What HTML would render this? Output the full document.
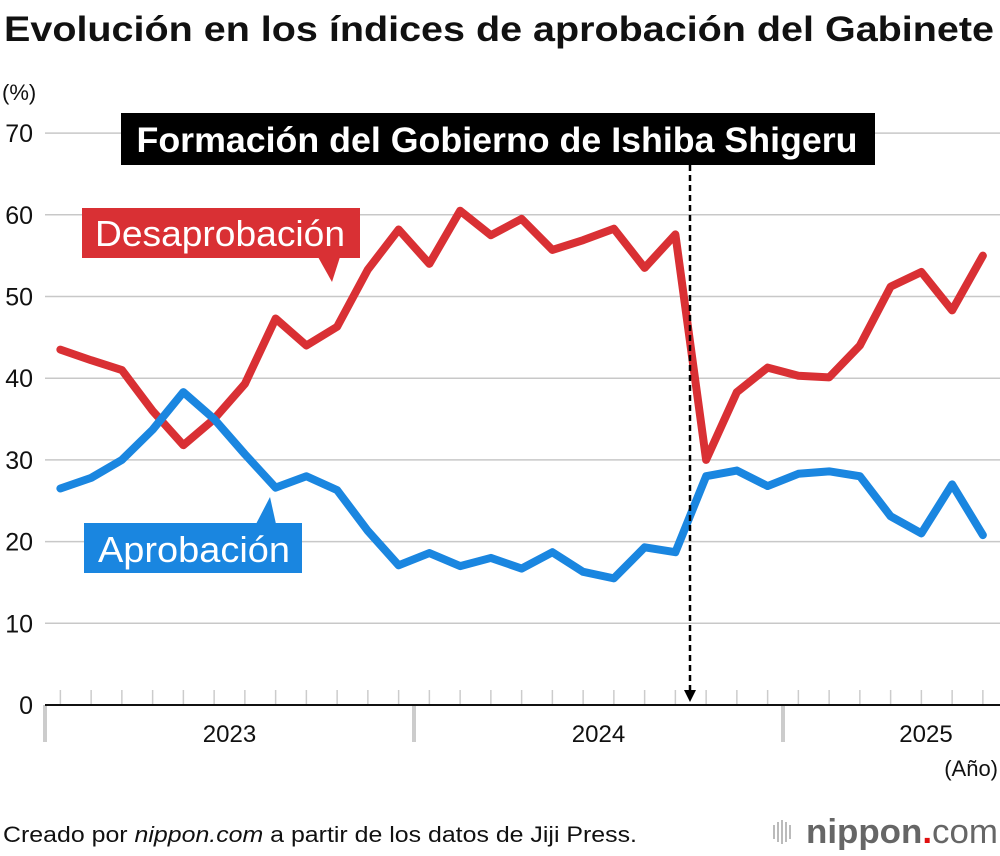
<!DOCTYPE html>
<html><head><meta charset="utf-8"><style>
body{margin:0;background:#fff;font-family:"Liberation Sans",Arial,sans-serif;}
svg{display:block}
</style></head><body>
<svg id="c" width="1000" height="856" viewBox="0 0 1000 856">
<text x="4" y="41" font-size="35" font-weight="bold" fill="#111" textLength="990" lengthAdjust="spacingAndGlyphs">Evolución en los índices de aprobación del Gabinete</text>
<text x="2" y="100" font-size="22" fill="#111">(%)</text>
<g id="grid"></g>
<g id="xaxis"></g>
<g id="lines"></g>
<g>
<rect x="121" y="113" width="754" height="52" fill="#000"/>
<text x="497" y="152" font-size="35" font-weight="bold" fill="#fff" text-anchor="middle" textLength="721" lengthAdjust="spacingAndGlyphs">Formación del Gobierno de Ishiba Shigeru</text>
<line x1="690" y1="165" x2="690" y2="692" stroke="#000" stroke-width="2.5" stroke-dasharray="6,4"/>
<path d="M684,690 L696,690 L690,702 Z" fill="#000"/>
</g>
<g>
<rect x="82" y="208" width="278" height="50" fill="#d93034"/>
<path d="M318,257 L340,257 L332,282 Z" fill="#d93034"/>
<text x="220" y="246" font-size="36" fill="#fff" text-anchor="middle" textLength="250" lengthAdjust="spacingAndGlyphs">Desaprobación</text>
</g>
<g>
<rect x="84" y="523" width="218" height="50" fill="#1a86e0"/>
<path d="M256,524 L276,524 L270,497 Z" fill="#1a86e0"/>
<text x="194" y="562" font-size="36" fill="#fff" text-anchor="middle" textLength="192" lengthAdjust="spacingAndGlyphs">Aprobación</text>
</g>
<text x="998" y="776" font-size="22" fill="#111" text-anchor="end">(Año)</text>
<text x="3" y="842" font-size="22" fill="#111" textLength="634" lengthAdjust="spacingAndGlyphs">Creado por <tspan font-style="italic">nippon.com</tspan> a partir de los datos de Jiji Press.</text>
<g>
<g fill="#bbb"><rect x="773" y="825" width="2" height="14"/><rect x="777" y="822" width="2" height="20"/><rect x="781" y="820" width="2" height="24"/><rect x="785" y="822" width="2" height="20"/><rect x="789" y="825" width="2" height="14"/></g>
<text x="806" y="843" font-size="34" font-weight="bold" fill="#666" textLength="192" lengthAdjust="spacingAndGlyphs">nippon<tspan fill="#e01010">.</tspan><tspan font-weight="normal">com</tspan></text>
</g>
</svg>
<script>
const yTicks=[0,10,20,30,40,50,60,70];
const years=["2023","2024","2025"];
const disapproval=[43.5,42.2,41,36,31.8,35,39.3,47.3,44,46.3,53.3,58.2,54,60.5,57.5,59.5,55.7,56.9,58.3,53.5,57.6,30,38.3,41.3,40.3,40.1,44,51.2,53,48.3,55];
const approval=[26.5,27.8,30,33.7,38.3,35,30.7,26.6,28,26.3,21.3,17.1,18.6,17,18,16.7,18.7,16.3,15.5,19.3,18.7,28,28.7,26.8,28.3,28.6,28,23.1,21,27,20.8];
const NS="http://www.w3.org/2000/svg";
const x0=45,mw=30.75,yBase=705,yPer=8.17;
const X=i=>x0+mw*(i+0.5);
const Y=v=>yBase-v*yPer;
function mk(t,a,p){const e=document.createElementNS(NS,t);for(const k in a)e.setAttribute(k,a[k]);p.appendChild(e);return e;}
const grid=document.getElementById('grid');
yTicks.forEach(v=>{
 if(v>0){const l=mk('line',{x1:45,x2:1000,y1:Y(v),y2:Y(v),stroke:'#c8c8c8','stroke-width':1.5},grid);
 
 }
 const t=mk('text',{x:33,y:Y(v)+9,'font-size':25,fill:'#111','text-anchor':'end'},grid);
 t.textContent=v;
 
 
});
const xa=document.getElementById('xaxis');
for(let i=0;i<disapproval.length;i++){
 const l=mk('line',{x1:X(i),x2:X(i),y1:690,y2:705,stroke:'#ccc','stroke-width':1.5},xa);
 
 
}
years.forEach((y,k)=>{
 const xs=x0+k*12*mw;
 const r=mk('rect',{x:xs-2,y:705,width:4,height:37,fill:'#ccc'},xa);
 
 
 const t=mk('text',{x:k<2?xs+6*mw:xs+4*mw+20,y:742,'font-size':24,fill:'#111','text-anchor':'middle'},xa);
 t.textContent=y;
 
 
});
const ax=mk('line',{x1:45,x2:1000,y1:705,y2:705,stroke:'#111','stroke-width':2},xa);


const lg=document.getElementById('lines');
function series(d,c,n){
 const p=mk('polyline',{points:d.map((v,i)=>X(i)+','+Y(v)).join(' '),fill:'none',stroke:c,'stroke-width':8,'stroke-linejoin':'round','stroke-linecap':'round'},lg);
 
 
}
series(disapproval,'#d93034','disapproval-line');
series(approval,'#1a86e0','approval-line');
</script>
</body></html>
